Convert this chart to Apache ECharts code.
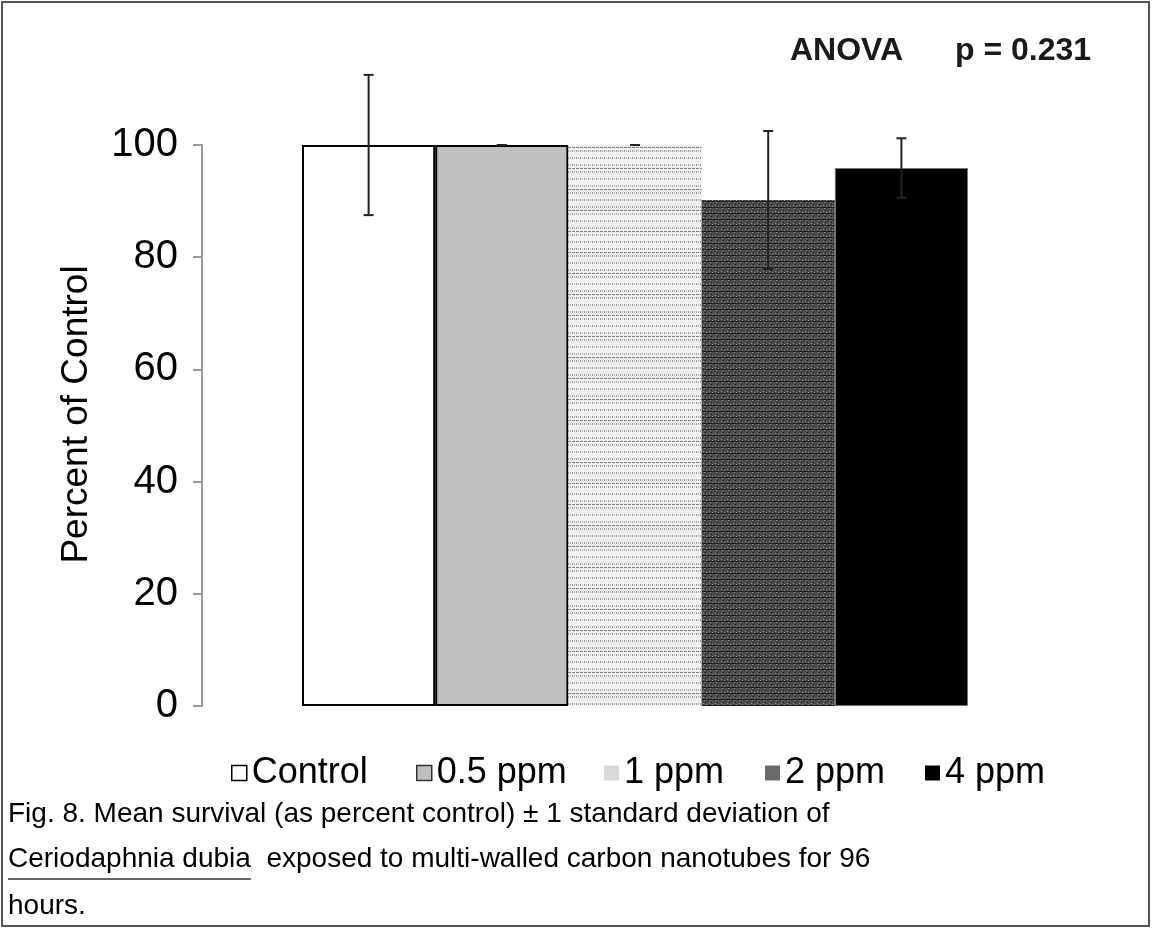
<!DOCTYPE html>
<html>
<head>
<meta charset="utf-8">
<script src="https://cdn.jsdelivr.net/npm/echarts@6/dist/echarts.min.js"></script>
<style>
  html, body { margin: 0; padding: 0; background: #fff; }
  #chart { width: 1152px; height: 928px; }
</style>
</head>
<body>
<div id="chart"></div>
<script>
// data
var groups = ['Control', '0.5 ppm', '1 ppm', '2 ppm', '4 ppm'];
var meanSurvival = [100, 100, 100, 90.2, 95.9];
var stdDev = [12.5, 0, 0, 12.3, 5.3];
var yTicks = { min: 0, max: 100, interval: 20 };
var captionLines = [
    'Fig. 8. Mean survival (as percent control) \u00b1 1 standard deviation of',
    'Ceriodaphnia dubia  exposed to multi-walled carbon nanotubes for 96',
    'hours.'
];
var underlined = 'Ceriodaphnia dubia';

var FONT = '"Liberation Sans", Arial, sans-serif';

// small tiles for the hatched bars
function makeTile(w, h, draw) {
    var c = document.createElement('canvas');
    c.width = w; c.height = h;
    draw(c.getContext('2d'));
    return c;
}

var dotTile = makeTile(4, 21, function(ctx) {
    ctx.fillStyle = '#f0f0f0';
    ctx.fillRect(0, 0, 4, 21);
    ctx.fillStyle = '#808080';
    ctx.fillRect(0, 0, 3, 1);
    [3, 10, 17].forEach(function(y) {
        ctx.fillStyle = '#9a9a9a';
        ctx.fillRect(0, y, 1, 2);
        ctx.fillStyle = '#b8b8b8';
        ctx.fillRect(2, y, 1, 2);
    });
});

var darkTile = makeTile(6, 6, function(ctx) {
    ctx.fillStyle = '#4a4a4a';
    ctx.fillRect(0, 0, 6, 6);
    ctx.fillStyle = '#8c8c8c';
    ctx.fillRect(1, 1, 1, 1);
    ctx.fillRect(4, 2, 1, 1);
    ctx.fillRect(2, 4, 1, 1);
    ctx.fillStyle = '#202020';
    ctx.fillRect(0, 3, 6, 1);
    ctx.fillRect(3, 0, 1, 1);
});

var barStyles = [
    { color: '#ffffff', borderColor: '#000', borderWidth: 2 },
    { color: '#bfbfbf', borderColor: '#000', borderWidth: 2 },
    { color: { image: dotTile, repeat: 'repeat' }, borderWidth: 0 },
    { color: { image: darkTile, repeat: 'repeat' }, borderWidth: 0 },
    { color: '#000000', borderColor: '#777', borderWidth: 1 }
];
var legendStyles = [
    { color: '#ffffff', borderColor: '#000', borderWidth: 1.5 },
    { color: '#bfbfbf', borderColor: '#333', borderWidth: 1.5 },
    { color: '#d9d9d9', borderWidth: 0 },
    { color: '#6b6b6b', borderWidth: 0 },
    { color: '#000000', borderWidth: 0 }
];
var legendLeft = [226, 411, 599, 760, 920];

var series = groups.map(function(name, i) {
    var d = groups.map(function(g, j) { return j === i ? meanSurvival[i] : '-'; });
    return {
        name: name,
        type: 'bar',
        data: d,
        barGap: '-100%',
        barCategoryGap: '0%',
        itemStyle: barStyles[i],
        silent: true
    };
});

var errData = groups.map(function(g, i) { return [i, meanSurvival[i], stdDev[i]]; });
series.push({
    type: 'custom',
    name: 'sd',
    data: errData,
    clip: false,
    z: 10,
    silent: true,
    renderItem: function(params, api) {
        var x = api.value(0), m = api.value(1), s = api.value(2);
        var hi = api.coord([x, m + s]);
        var lo = api.coord([x, m - s]);
        var st = { stroke: '#222', lineWidth: 2 };
        return {
            type: 'group',
            children: [
                { type: 'line', shape: { x1: hi[0], y1: hi[1], x2: lo[0], y2: lo[1] }, style: st },
                { type: 'line', shape: { x1: hi[0] - 5, y1: hi[1], x2: hi[0] + 5, y2: hi[1] }, style: st },
                { type: 'line', shape: { x1: lo[0] - 5, y1: lo[1], x2: lo[0] + 5, y2: lo[1] }, style: st }
            ]
        };
    }
});

var legends = groups.map(function(name, i) {
    return {
        data: [{ name: name, itemStyle: legendStyles[i] }],
        left: legendLeft[i],
        top: 750,
        icon: 'rect',
        itemWidth: 15,
        itemHeight: 15,
        itemGap: 6,
        selectedMode: false,
        textStyle: { fontFamily: FONT, fontSize: 36, color: '#000', padding: [0, 0, 0, 0] }
    };
});

// width of the underlined species name
var mctx = document.createElement('canvas').getContext('2d');
mctx.font = '28px ' + FONT;
var ulWidth = mctx.measureText(underlined).width;

var captionY = [816, 861, 908];
var graphics = captionLines.map(function(t, i) {
    return {
        type: 'text', left: 8, top: captionY[i] - 16,
        style: { text: t, font: '28px ' + FONT, fill: '#000' }
    };
});
graphics.push({
    type: 'line',
    shape: { x1: 8, y1: 879, x2: 8 + ulWidth, y2: 879 },
    style: { stroke: '#333', lineWidth: 1.5 }
});
graphics.push({
    type: 'text', left: 790, top: 35,
    style: { text: 'ANOVA', font: 'bold 32px ' + FONT, fill: '#1a1a1a' }
});
graphics.push({
    type: 'text', left: 955, top: 35,
    style: { text: 'p = 0.231', font: 'bold 32px ' + FONT, fill: '#1a1a1a' }
});
graphics.push({
    type: 'rect', z: -1,
    shape: { x: 2, y: 2, width: 1147, height: 924 },
    style: { fill: 'none', stroke: '#555', lineWidth: 2 }
});

var chart = echarts.init(document.getElementById('chart'));
chart.setOption({
    animation: false,
    backgroundColor: '#fff',
    grid: { left: 302, right: 184, top: 145, bottom: 222 },
    xAxis: {
        type: 'category',
        data: groups,
        show: false
    },
    yAxis: {
        type: 'value',
        min: yTicks.min,
        max: yTicks.max,
        interval: yTicks.interval,
        offset: 100,
        name: 'Percent of Control',
        nameLocation: 'middle',
        nameRotate: 90,
        nameGap: 107,
        nameTextStyle: { fontFamily: FONT, fontSize: 37, color: '#000', padding: [0, 0, 0, 22] },
        axisLine: { show: true, lineStyle: { color: '#9a9a9a', width: 2 } },
        axisTick: { show: true, length: 9, lineStyle: { color: '#9a9a9a', width: 2 } },
        axisLabel: { fontFamily: FONT, fontSize: 40, color: '#000', margin: 24 },
        splitLine: { show: false }
    },
    legend: legends,
    series: series,
    graphic: graphics
});
</script>
</body>
</html>
